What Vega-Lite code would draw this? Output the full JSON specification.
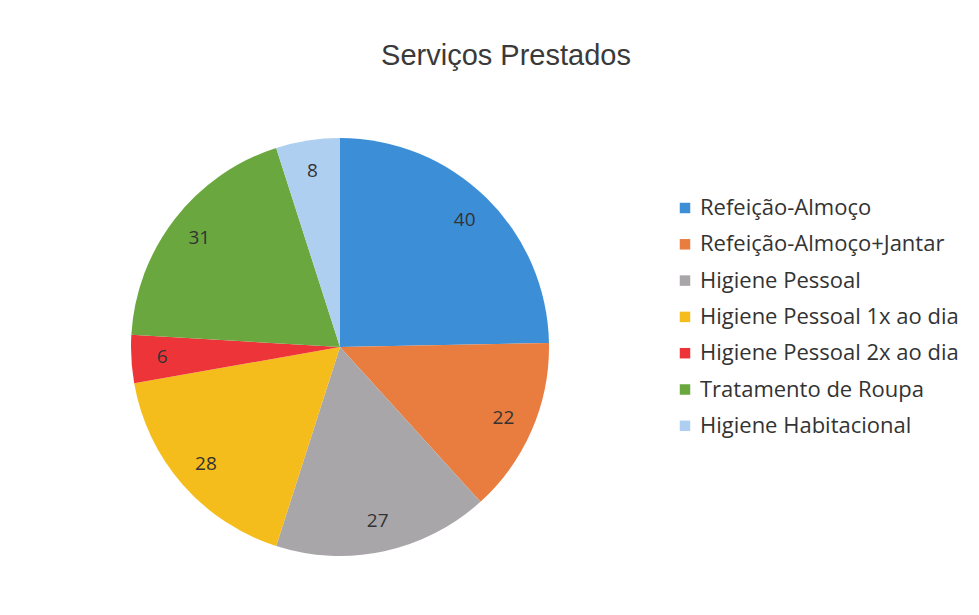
{
  "$schema": "https://vega.github.io/schema/vega-lite/v6.json",
  "width": 418,
  "height": 418,
  "autosize": {"type": "none"},
  "padding": {"left": 131, "top": 138, "right": 430, "bottom": 59},
  "background": "#ffffff",
  "title": {
    "text": "Serviços Prestados",
    "anchor": "middle",
    "frame": "group",
    "dx": 166,
    "offset": 67,
    "font": "Liberation Sans",
    "fontSize": 29,
    "fontWeight": "normal",
    "color": "#3a3a3a"
  },
  "data": {
    "values": [
      {"servico": "Refeição-Almoço", "quantidade": 40, "ordem": 1},
      {"servico": "Refeição-Almoço+Jantar", "quantidade": 22, "ordem": 2},
      {"servico": "Higiene Pessoal", "quantidade": 27, "ordem": 3},
      {"servico": "Higiene Pessoal 1x ao dia", "quantidade": 28, "ordem": 4},
      {"servico": "Higiene Pessoal 2x ao dia", "quantidade": 6, "ordem": 5},
      {"servico": "Tratamento de Roupa", "quantidade": 31, "ordem": 6},
      {"servico": "Higiene Habitacional", "quantidade": 8, "ordem": 7}
    ]
  },
  "encoding": {
    "theta": {"field": "quantidade", "type": "quantitative", "stack": true},
    "order": {"field": "ordem", "type": "quantitative"}
  },
  "layer": [
    {
      "mark": {"type": "arc", "outerRadius": 209, "stroke": null},
      "encoding": {
        "color": {
          "field": "servico",
          "type": "nominal",
          "sort": null,
          "scale": {
            "domain": ["Refeição-Almoço", "Refeição-Almoço+Jantar", "Higiene Pessoal", "Higiene Pessoal 1x ao dia", "Higiene Pessoal 2x ao dia", "Tratamento de Roupa", "Higiene Habitacional"],
            "range": ["#3c8fd7", "#e97c3f", "#a9a6a9", "#f5bd1b", "#ed3539", "#6aa83f", "#afcff1"]
          },
          "legend": {
            "orient": "none",
            "legendX": 543,
            "legendY": 59,
            "title": null,
            "padding": 0,
            "symbolType": "square",
            "symbolSize": 110,
            "symbolStrokeWidth": 0,
            "labelFont": "Open Sans",
            "labelFontSize": 22,
            "labelColor": "#333333",
            "labelOffset": 4,
            "labelLimit": 400,
            "rowPadding": 14.3,
            "labelExpr": "indexof(datum.label, 'Refei') == 0 ? '\u00a0' + datum.label : datum.label"
          }
        }
      }
    },
    {
      "mark": {"type": "text", "radius": 178, "font": "Open Sans", "fontSize": 19, "color": "#333333"},
      "encoding": {
        "text": {"field": "quantidade", "type": "quantitative"}
      }
    }
  ]
}
